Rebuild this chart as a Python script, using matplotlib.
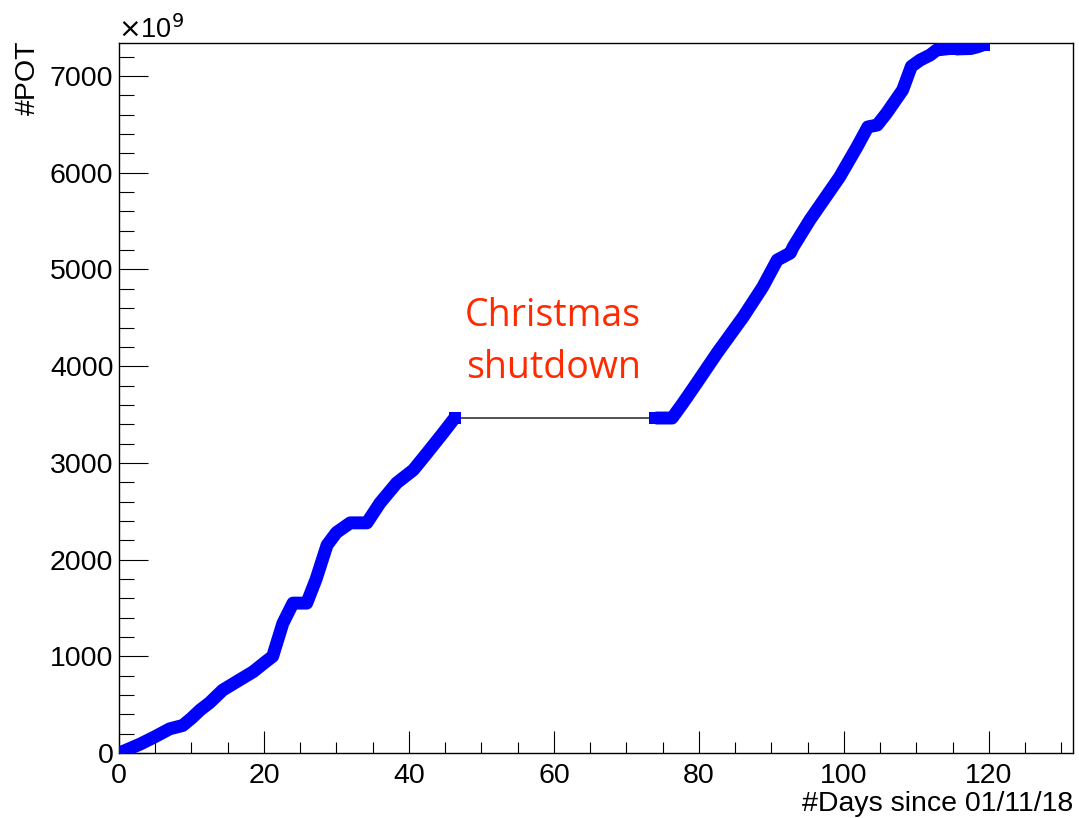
import matplotlib
matplotlib.use("Agg")
import matplotlib.pyplot as plt
from matplotlib.ticker import MultipleLocator

# Run period 1 (before Christmas shutdown)
run1_days = [0, 1, 3, 5, 7, 8.8, 10, 11.2, 12.5, 14.3, 16.5, 18.5, 20, 21.2, 22.6,
             24, 25.9, 27.2, 28.7, 30, 31.9, 34.2, 36, 38.3, 40.6, 42.5, 44.7, 46.3]
run1_pot = [0, 30, 95, 170, 250, 285, 360, 445, 520, 650, 750, 840, 930, 1000, 1340,
            1550, 1550, 1800, 2150, 2280, 2380, 2380, 2585, 2792, 2927, 3102, 3309, 3464]
# Run period 2 (after shutdown)
run2_days = [74.0, 76.3, 77.8, 79.7, 82.5, 86.1, 88.8, 90.8, 92.6, 93.0, 95.3, 99.4,
             101.8, 103.3, 104.6, 105.9, 108.1, 109.3, 110.5, 111.9, 112.8, 114.6]
run2_pot = [3464, 3464, 3619, 3826, 4136, 4509, 4819, 5098, 5170, 5233, 5512, 5956,
            6267, 6474, 6494, 6618, 6856, 7100, 7165, 7218, 7270, 7285]
# Run period 3
run3_days = [115.4, 117.5, 118.3, 119.3]
run3_pot = [7280, 7285, 7300, 7325]

x_ticks = [0, 20, 40, 60, 80, 100, 120]
y_ticks = [0, 1000, 2000, 3000, 4000, 5000, 6000, 7000]

W, H = 1079, 818
fig = plt.figure(figsize=(W / 100, H / 100), dpi=100)
ax = fig.add_axes([119 / W, (H - 753) / H, (1073 - 119) / W, (753 - 43) / H])

font = ["Liberation Sans", "DejaVu Sans"]
fs = 20.5

all_days = run1_days + run2_days + run3_days
all_pot = run1_pot + run2_pot + run3_pot
ax.plot(all_days, all_pot, color="#444444", lw=1.3, zorder=2)
for d, p in ((run1_days, run1_pot), (run2_days, run2_pot), (run3_days, run3_pot)):
    ax.plot(d, p, color="#0000ff", lw=9.3, marker="s", ms=9.3, mew=0,
            markevery=[0, len(d) - 1],
            solid_joinstyle="round", solid_capstyle="butt", zorder=3)

ax.set_xlim(0, 131.6)
ax.set_ylim(0, 7342)
ax.set_xticks(x_ticks)
ax.set_yticks(y_ticks)
ax.xaxis.set_minor_locator(MultipleLocator(5))
ax.yaxis.set_minor_locator(MultipleLocator(200))
ax.tick_params(axis="both", which="both", direction="in", width=0.8, colors="black")
ax.tick_params(axis="x", which="major", length=15.8, pad=7)
ax.tick_params(axis="x", which="minor", length=7.8)
ax.tick_params(axis="y", which="major", length=21, pad=4)
ax.tick_params(axis="y", which="minor", length=10.5)
for lab in ax.get_xticklabels() + ax.get_yticklabels():
    lab.set_fontfamily(font)
    lab.set_fontsize(fs)
for s in ax.spines.values():
    s.set_linewidth(1.0)

fig.text(1073 / W, 1 - 804 / H, "#Days since 01/11/18", ha="right", va="center",
         fontsize=fs, family=font)
fig.text(28 / W, 1 - 78 / H, "#POT", ha="center", va="center", rotation=90,
         fontsize=fs, family=font)
fig.text(118 / W, 1 - 30 / H, r"$\times$10$^{9}$", ha="left", va="center",
         fontsize=19.5, family=font)

red_font = ["Open Sans", "DejaVu Sans"]
fig.text(553 / W, 1 - 316 / H, "Christmas", ha="center", va="center",
         fontsize=27, color="#ff2a00", family=red_font)
fig.text(553 / W, 1 - 368 / H, "shutdown", ha="center", va="center",
         fontsize=27, color="#ff2a00", family=red_font)

fig.savefig("out.png", dpi=100)
